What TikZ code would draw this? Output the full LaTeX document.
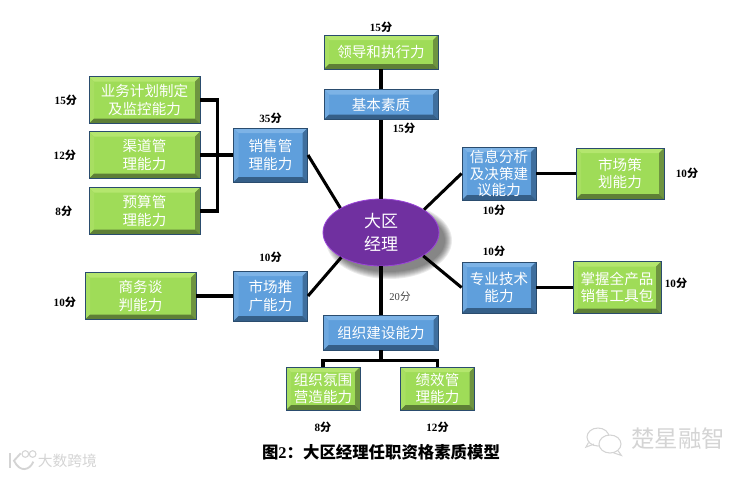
\documentclass[tikz,border=0pt]{standalone}
\usepackage{fontspec}
\usepackage{xcolor}
\usepackage{tikz}
\usetikzlibrary{positioning, shapes.geometric, calc}
\setmainfont{Liberation Serif}
\newfontfamily\cjk{Noto Sans CJK SC}

\definecolor{greenface}{HTML}{9FDC58}
\definecolor{greentop}{HTML}{B4E66E}
\definecolor{greenleft}{HTML}{A8DF62}
\definecolor{greenright}{HTML}{6E9440}
\definecolor{greenbottom}{HTML}{5E7F36}
\definecolor{blueface}{HTML}{5F9FDC}
\definecolor{bluetop}{HTML}{7DB3E6}
\definecolor{blueleft}{HTML}{6FA9E0}
\definecolor{blueright}{HTML}{3F6F9E}
\definecolor{bluebottom}{HTML}{355F88}
\definecolor{boxline}{HTML}{2A4C6E}
\definecolor{purpleface}{HTML}{7030A0}
\definecolor{purplerim}{HTML}{9A44D8}
\definecolor{markgray}{HTML}{D4D4D4}

\pgfdeclareradialshading{jingliglow}{\pgfpoint{0bp}{0bp}}{color(0bp)=(purpleface); color(43bp)=(purpleface); color(50bp)=(purplerim)}

% four slanted edges inside a box
\newcommand{\bevelbox}[4]{
    \coordinate (nw) at (path picture bounding box.north west);
    \coordinate (ne) at (path picture bounding box.north east);
    \coordinate (se) at (path picture bounding box.south east);
    \coordinate (sw) at (path picture bounding box.south west);
    \fill[#1] (nw) -- (ne) -- ($(ne)+(-0.15,-0.15)$) -- ($(nw)+(0.15,-0.15)$) -- cycle;
    \fill[#2] (nw) -- (sw) -- ($(sw)+(0.15,0.15)$) -- ($(nw)+(0.15,-0.15)$) -- cycle;
    \fill[#3] (ne) -- (se) -- ($(se)+(-0.15,0.15)$) -- ($(ne)+(-0.15,-0.15)$) -- cycle;
    \fill[#4] (sw) -- (se) -- ($(se)+(-0.15,0.15)$) -- ($(sw)+(0.15,0.15)$) -- cycle;
}
\newcommand{\fen}[1]{#1{\cjk 分}}

\tikzset{
    bar/.style={draw=boxline, line width=0.8pt, text=white, align=center, inner sep=0pt,
        font=\cjk\fontsize{12.4}{14.6}\selectfont},
    greenbox/.style={bar, fill=greenface, path picture={\bevelbox{greentop}{greenleft}{greenright}{greenbottom}}},
    bluebox/.style={bar, fill=blueface, path picture={\bevelbox{bluetop}{blueleft}{blueright}{bluebottom}}},
    wide/.style={minimum width=3.33cm, minimum height=1.41cm},
    mid/.style={minimum width=2.22cm, minimum height=1.5cm},
    link/.style={line width=2.6pt, draw=black},
    score/.style={font=\bfseries\fontsize{9.5}{11}\selectfont, inner sep=0pt},
    bubble/.style={ellipse, draw=markgray, line width=0.9pt, fill=white, inner sep=0pt},
    ringmark/.style={circle, draw=markgray, line width=0.9pt, minimum size=0.2cm, inner sep=0pt}
}

\begin{document}
\begin{tikzpicture}[on grid]
    \useasboundingbox (0,0) rectangle (22.41,-14.28);

    \coordinate (centre) at (11.43,-6.975);
    % soft shadow
    \foreach \spread in {0.15,0.12,0.09,0.06,0.03,0,-0.03,-0.06}
        \fill[black, opacity=0.08] ($(centre)+(0.24,-0.24)$) ellipse ({1.74+\spread} and {1.005+\spread});

    \node[ellipse, minimum width=3.48cm, minimum height=2.01cm, inner sep=0pt, shading=jingliglow,
        draw=purplerim, line width=0.7pt,
        text=white, align=center, font=\cjk\fontsize{14.5}{19.5}\selectfont] (jingli) at (centre) {大区\\经理};

    \node[bluebox, minimum width=3.42cm, minimum height=0.9cm] (jiben) [above=3.84of jingli] {基本素质};
    \node[greenbox, minimum width=3.42cm, minimum height=1.02cm] (lingdao) [above=1.575of jiben] {领导和执行力};

    \node[bluebox, mid, minimum height=1.62cm] (xiaoshou) [above left=2.325 and 3.315of jingli] {销售管\\理能力};
    \node[greenbox, wide] (qudao) [left=3.78of xiaoshou] {渠道管\\理能力};
    \node[greenbox, wide] (yewu) [above=1.65of qudao] {业务计划制定\\及监控能力};
    \node[greenbox, wide] (yusuan) [below=1.68of qudao] {预算管\\理能力};

    \node[bluebox, mid] (tuiguang) [below left=1.905 and 3.315of jingli] {市场推\\广能力};
    \node[greenbox, wide] (shangwu) [left=3.9of tuiguang] {商务谈\\判能力};

    \node[bluebox, mid, minimum height=1.59cm, font=\cjk\fontsize{12.4}{14}\selectfont] (xinxi) [above right=1.77 and 3.54of jingli] {信息分析\\及决策建\\议能力};
    \node[greenbox, minimum width=2.64cm, minimum height=1.53cm] (cehua) [right=3.63of xinxi] {市场策\\划能力};

    \node[bluebox, mid, minimum height=1.53cm] (zhuanye) [below right=1.65 and 3.54of jingli] {专业技术\\能力};
    \node[greenbox, minimum width=2.64cm, minimum height=1.56cm] (zhangwo) [right=3.54of zhuanye] {掌握全产品\\销售工具包};

    \node[bluebox, minimum width=3.45cm, minimum height=1.05cm] (zuzhi) [below=3.0of jingli] {组织建设能力};
    \node[greenbox, minimum width=2.22cm, minimum height=1.29cm] (fenwei) [below left=1.68 and 1.74of zuzhi] {组织氛围\\营造能力};
    \node[greenbox, minimum width=2.22cm, minimum height=1.29cm] (jixiao) [below right=1.68 and 1.695of zuzhi] {绩效管\\理能力};

    \coordinate[left=0.48of xiaoshou.west] (xiaoshoufork);
    \coordinate[below=0.3of zuzhi.south] (zuzhifork);

    \path[link]
    (jingli) edge (jiben)
    (jiben) edge (lingdao)
    (jingli.149) edge (xiaoshou.east)
    (jingli.212) edge (tuiguang.east)
    (jingli.28) edge (xinxi.west)
    (jingli.-29) edge (zhuanye.west)
    (jingli) edge (zuzhi)
    (xinxi) edge (cehua)
    (zhuanye) edge (zhangwo)
    (tuiguang) edge (shangwu)
    (xiaoshou.west) edge (xiaoshoufork)
    (qudao.east) edge (xiaoshoufork)
    (zuzhi.south) edge (zuzhifork);
    \draw[link, line join=miter] (yewu.east) -| (xiaoshoufork) |- (yusuan.east);
    \draw[link, line join=miter] (fenwei.north) |- (zuzhifork) -| (jixiao.north);

    \node[score] (s1) [above=0.75of lingdao] {\fen{15}};
    \node[score] (s2) [below right=0.705 and 0.69of jiben] {\fen{15}};
    \node[score] (s3) [left=2.36of yewu] {\fen{15}};
    \node[score] (s4) [left=2.39of qudao] {\fen{12}};
    \node[score] (s5) [left=2.42of yusuan] {\fen{8}};
    \node[score] (s6) [above=1.11of xiaoshou] {\fen{35}};
    \node[score] (s7) [above=1.17of tuiguang] {\fen{10}};
    \node[score] (s8) [left=2.27of shangwu, yshift=-0.2cm] {\fen{10}};
    \node[score] (s9) [below=1.09of xinxi, xshift=-0.15cm] {\fen{10}};
    \node[score] (s10) [right=2.01of cehua] {\fen{10}};
    \node[score] (s11) [above=1.09of zhuanye, xshift=-0.15cm] {\fen{10}};
    \node[score] (s12) [right=1.77of zhangwo, yshift=0.12cm] {\fen{10}};
    \node[score, font=\fontsize{9}{11}\selectfont, text=black!75] (s13) [below right=1.935 and 0.57of jingli] {\fen{20}};
    \node[score] (s14) [below=1.155of fenwei] {\fen{8}};
    \node[score] (s15) [below=1.155of jixiao] {\fen{12}};

    \node[font=\cjk\bfseries\fontsize{14}{16}\selectfont, inner sep=0pt] (caption) [below=3.585of zuzhi] {图{\rmfamily 2}：大区经理任职资格素质模型};

    % watermarks
    \node[text=markgray, font=\cjk\fontsize{20}{22}\selectfont, inner sep=0pt] (chuxing) at (20.34,-13.17) {楚星融智};
    \node[bubble, minimum width=0.66cm, minimum height=0.54cm] (bubbleback) at (17.94,-13.11) {};
    \draw[markgray, line width=0.9pt] (bubbleback.210) -- +(-0.08,-0.14) -- +(0.16,-0.05);
    \node[bubble, minimum width=0.66cm, minimum height=0.54cm] (bubblefront) at (18.3,-13.32) {};
    \draw[markgray, line width=0.9pt] (bubblefront.-40) -- +(0.1,-0.14) -- +(-0.14,-0.06);
    \node[text=markgray, font=\cjk\fontsize{12.6}{15}\selectfont, inner sep=0pt] (dashu) at (2.02,-13.83) {大数跨境};
    \node[ringmark] (ringleft) at (0.76,-13.62) {};
    \node[ringmark] (ringright) at (0.98,-13.62) {};
    \draw[markgray, line width=1.6pt] (0.3,-13.6) -- (0.3,-14.05);
    \draw[markgray, line width=1.6pt] (0.62,-13.6) -- (0.42,-13.82) .. controls (0.6,-14.2) and (0.9,-14.1) .. (1.0,-13.85);
\end{tikzpicture}
\end{document}
